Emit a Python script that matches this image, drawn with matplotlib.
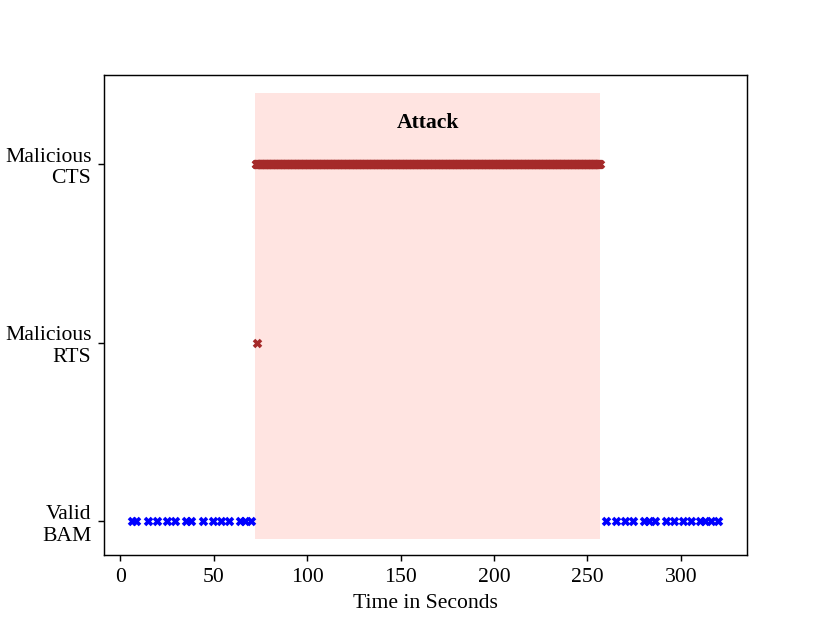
import numpy as np
import matplotlib.pyplot as plt

plt.rcParams['font.family'] = ['Liberation Serif', 'DejaVu Serif']

# seconds at which each message type was seen
bam_before = [6.5, 8.5, 15, 20, 25, 29.5, 35, 38, 44.5, 49.5, 54, 58.5, 64, 67, 70]
bam_after = [260, 265, 270, 274.5, 280, 283, 286, 292, 296.5, 301, 305.5, 310, 313, 316, 320]
rts_times = [73]
cts_start, cts_end = 72.5, 256.5
attack_start, attack_end = 72.3, 256.6
y_labels = ['Valid\nBAM', 'Malicious\nRTS', 'Malicious\nCTS']

cts_times = np.arange(cts_start, cts_end + 0.01, 0.25)

fig, ax = plt.subplots(figsize=(6.4, 4.8), dpi=130)
fig.subplots_adjust(right=0.898)

ax.fill_between([attack_start, attack_end], -0.1, 2.4, color='mistyrose', lw=0)
ax.text((attack_start + attack_end) / 2, 2.23, 'Attack', ha='center', va='center',
        fontsize=12, fontweight='bold')

ax.scatter(bam_before + bam_after, [0] * (len(bam_before) + len(bam_after)),
           marker='x', color='blue', s=15, linewidths=2)
ax.scatter(rts_times, [1] * len(rts_times), marker='x', color='brown', s=15, linewidths=2)
ax.scatter(cts_times, [2] * len(cts_times), marker='x', color='brown', s=15, linewidths=2)

ax.set_yticks([0, 1, 2])
ax.set_yticklabels(y_labels, fontsize=12)
ax.tick_params(axis='x', labelsize=12)
ax.set_xlim(-8.6, 335.4)
ax.set_ylim(-0.19, 2.5)
ax.set_xlabel('Time in Seconds', fontsize=12)

plt.savefig('out.png')
